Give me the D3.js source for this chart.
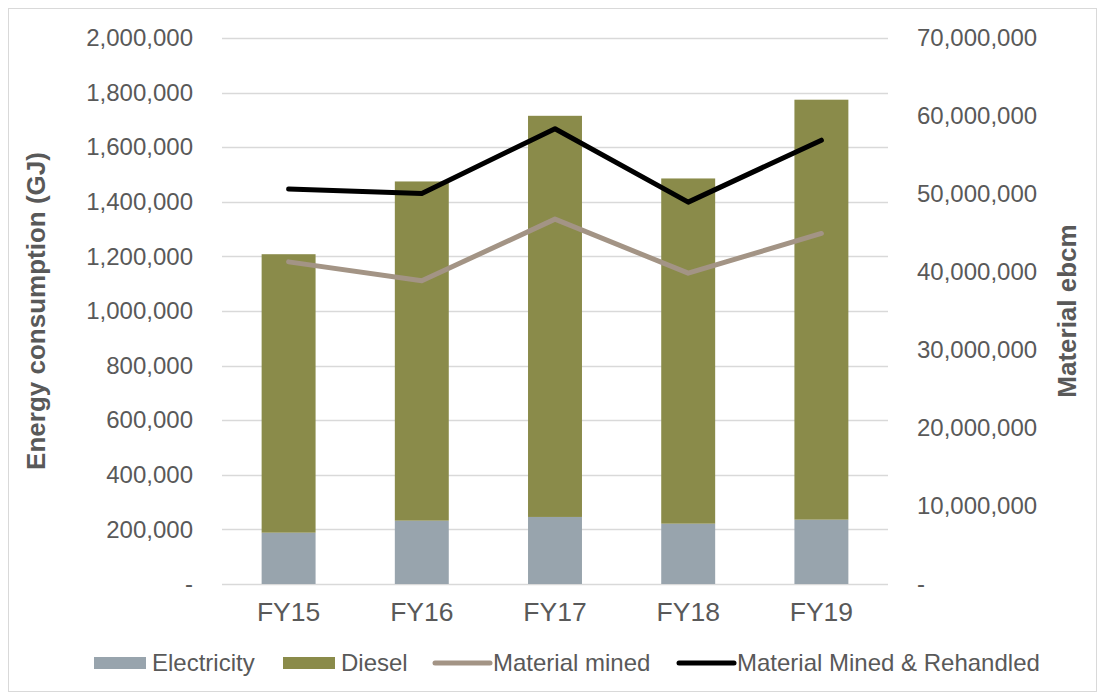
<!DOCTYPE html>
<meta charset="utf-8">
<style>
body { margin: 0; background: #fff; }
text { font-family: "Liberation Sans", Arial, sans-serif; fill: #595959; }
.tick text { font-size: 24px; }
.xaxis .tick text { font-size: 26.5px; }
.title { font-size: 26px; font-weight: bold; }
.legend text { font-size: 24px; }
</style>
<svg width="1104" height="698"></svg>
<script src="https://d3js.org/d3.v7.min.js"></script>
<script>

var years = ["FY15", "FY16", "FY17", "FY18", "FY19"];
var electricity = [188000, 232000, 245600, 221000, 235700];
var diesel = [1020000, 1242500, 1469400, 1264500, 1538300];
var materialMined = [41300000, 38870000, 46780000, 39850000, 44940000];
var minedRehandled = [50630000, 50070000, 58370000, 48960000, 56900000];
var leftTicks = [0, 200000, 400000, 600000, 800000, 1000000, 1200000, 1400000, 1600000, 1800000, 2000000];
var rightTicks = [0, 10000000, 20000000, 30000000, 40000000, 50000000, 60000000, 70000000];

var svg = d3.select("svg"),
    margin = {top: 38, right: 216, bottom: 114, left: 222},
    width = +svg.attr("width") - margin.left - margin.right,
    height = +svg.attr("height") - margin.top - margin.bottom;

// chart frame
svg.append("rect")
    .attr("x", 8.5).attr("y", 8.5)
    .attr("width", 1088).attr("height", 683)
    .attr("fill", "#fff").attr("stroke", "#d9d9d9");

var g = svg.append("g").attr("transform", "translate(" + margin.left + "," + margin.top + ")");

var x = d3.scaleBand().domain(years).range([0, width]).paddingInner(0.595).paddingOuter(0.2975);
var y = d3.scaleLinear().domain([0, 2000000]).range([height, 0]);
var y2 = d3.scaleLinear().domain([0, 70000000]).range([height, 0]);

var fmt = d3.format(",");
function tickFmt(d) { return d === 0 ? "-" : fmt(d); }

// gridlines
g.selectAll(".grid")
  .data(leftTicks)
  .enter().append("line")
    .attr("x1", 0).attr("x2", width)
    .attr("y1", function(d) { return Math.round(y(d)) + 0.5; })
    .attr("y2", function(d) { return Math.round(y(d)) + 0.5; })
    .attr("stroke", "#d9d9d9").attr("stroke-width", 1.5);

var yAxis = g.append("g")
    .call(d3.axisLeft(y).tickValues(leftTicks).tickFormat(tickFmt).tickSize(0).tickPadding(29));
yAxis.select(".domain").remove();

var yAxis2 = g.append("g")
    .attr("transform", "translate(" + width + ",0)")
    .call(d3.axisRight(y2).tickValues(rightTicks).tickFormat(tickFmt).tickSize(0).tickPadding(29));
yAxis2.select(".domain").remove();

var xAxis = g.append("g").attr("class", "xaxis")
    .attr("transform", "translate(0," + height + ")")
    .call(d3.axisBottom(x).tickSize(0).tickPadding(18));
xAxis.select(".domain").remove();

// stacked bars
var rows = years.map(function(yr, i) { return {year: yr, electricity: electricity[i], diesel: diesel[i]}; });
var stack = d3.stack().keys(["electricity", "diesel"])(rows);
var colors = {electricity: "#98a4ad", diesel: "#8a8b4a"};

g.selectAll(".series")
  .data(stack)
  .enter().append("g")
    .attr("fill", function(d) { return colors[d.key]; })
  .selectAll("rect")
  .data(function(d) { return d; })
  .enter().append("rect")
    .attr("x", function(d) { return x(d.data.year); })
    .attr("width", x.bandwidth())
    .attr("y", function(d) { return y(d[1]); })
    .attr("height", function(d) { return y(d[0]) - y(d[1]); });

// lines
var line = d3.line()
    .x(function(d, i) { return x(years[i]) + x.bandwidth() / 2; })
    .y(function(d) { return y2(d); });

g.append("path").datum(materialMined)
    .attr("d", line).attr("fill", "none")
    .attr("stroke", "#a39485").attr("stroke-width", 5)
    .attr("stroke-linecap", "round").attr("stroke-linejoin", "round");

g.append("path").datum(minedRehandled)
    .attr("d", line).attr("fill", "none")
    .attr("stroke", "#000").attr("stroke-width", 5)
    .attr("stroke-linecap", "round").attr("stroke-linejoin", "round");

// axis titles
svg.append("text").attr("class", "title")
    .attr("transform", "translate(45," + (margin.top + height / 2) + ") rotate(-90)")
    .attr("text-anchor", "middle")
    .text("Energy consumption (GJ)");

svg.append("text").attr("class", "title")
    .attr("transform", "translate(1076," + (margin.top + height / 2) + ") rotate(-90)")
    .attr("text-anchor", "middle")
    .text("Material ebcm");

// legend
var legend = svg.append("g").attr("class", "legend");
var items = [
  {name: "Electricity", type: "rect", color: "#98a4ad", x: 94},
  {name: "Diesel", type: "rect", color: "#8a8b4a", x: 283},
  {name: "Material mined", type: "line", color: "#a39485", x: 435},
  {name: "Material Mined & Rehandled", type: "line", color: "#000", x: 679}
];
items.forEach(function(it) {
  if (it.type === "rect") {
    legend.append("rect").attr("x", it.x).attr("y", 657).attr("width", 52).attr("height", 12).attr("fill", it.color);
  } else {
    legend.append("line").attr("x1", it.x).attr("x2", it.x + 55).attr("y1", 663).attr("y2", 663)
        .attr("stroke", it.color).attr("stroke-width", 5).attr("stroke-linecap", "round");
  }
  legend.append("text").attr("x", it.x + 58).attr("y", 671).text(it.name);
});

</script>
